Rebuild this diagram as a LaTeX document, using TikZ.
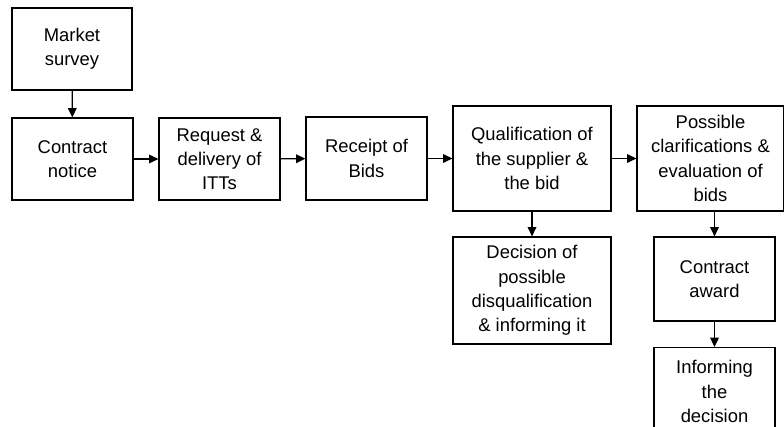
\documentclass[tikz,border=0pt]{standalone}
\usepackage{fontspec}
\setmainfont{Liberation Sans}
\usetikzlibrary{arrows.meta}

\begin{document}
\begin{tikzpicture}[x=0.75pt, y=-0.75pt, line width=0.9pt,
  stagebox/.style={draw=black, align=center, inner sep=0pt, font=\fontsize{13.8}{18.2}\selectfont},
  flow/.style={-{Triangle[length=7pt,width=6.5pt]}}]

\useasboundingbox (0,0) rectangle (784,427);

\node[stagebox, minimum width=90pt, minimum height=61.5pt] (survey) at (72,49) {Market\\survey};

\node[stagebox, minimum width=90.75pt, minimum height=61.5pt] (notice) at (72.5,159) {Contract\\notice};
\node[stagebox, minimum width=90.75pt, minimum height=61.5pt] (request) at (219.5,159) {Request \&\\delivery of\\ITTs};
\node[stagebox, minimum width=90.75pt, minimum height=62.25pt] (receipt) at (366.5,158.5) {Receipt of\\Bids};
\node[stagebox, minimum width=118.5pt, minimum height=78.75pt] (qualif) at (532,158.5) {Qualification of\\the supplier \&\\the bid};
\node[stagebox, minimum width=110.25pt, minimum height=78.75pt] (possible) at (710.5,158.5) {Possible\\clarifications \&\\evaluation of\\bids};

\node[stagebox, minimum width=118.5pt, minimum height=80.25pt] (decision) at (532,290.5) {Decision of\\possible\\disqualification\\\& informing it};
\node[stagebox, minimum width=90.75pt, minimum height=63pt] (award) at (714.5,279) {Contract\\award};
\node[stagebox, minimum width=90.75pt, minimum height=66pt, anchor=north] (informing) at (714.5,347) {Informing\\the\\decision};

\draw[flow] (survey) -- (notice);
\draw[flow] (notice) -- (request);
\draw[flow] (request) -- (receipt);
\draw[flow] (receipt) -- (qualif);
\draw[flow] (qualif) -- (possible);
\draw[flow] (qualif) -- (decision);
\draw[flow] (possible.south -| award.north) -- (award.north);
\draw[flow] (award) -- (informing);
\end{tikzpicture}
\end{document}
